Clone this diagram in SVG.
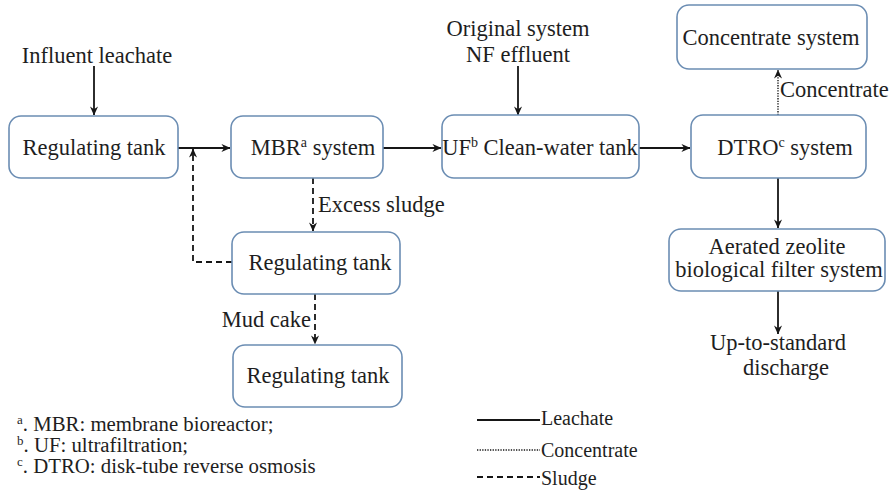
<svg xmlns="http://www.w3.org/2000/svg" width="896" height="492" viewBox="0 0 896 492" font-family="'Liberation Serif', 'DejaVu Serif', serif">
  <style>
    text { font-family: "Liberation Serif", "DejaVu Serif", serif; fill: #1e1e1e; }
    .lbl { font-size: 22.5px; }
    .box { fill: #ffffff; stroke: #6b8db3; stroke-width: 1.6; }
    .ctr { text-anchor: middle; }
    .note { font-size: 20.8px; }
    .legend { font-size: 20px; }
    .solid { stroke: #161616; stroke-width: 1.8; fill: none; }
    .dotted { stroke: #161616; stroke-width: 1.4; fill: none; stroke-dasharray: 1.3 1.3; }
    .dashed { stroke: #161616; stroke-width: 1.8; fill: none; stroke-dasharray: 6 4; }
  </style>
  <defs>
    <marker id="arrow" viewBox="0 0 10 10" refX="9.5" refY="5" markerWidth="9" markerHeight="9" markerUnits="userSpaceOnUse" orient="auto">
      <path d="M0,0.5 L10,5 L0,9.5 L3,5 Z" fill="#161616"/>
    </marker>
  </defs>

  <rect width="896" height="492" fill="#ffffff"/>

  <!-- connectors -->
  <g id="connectors">
    <line class="solid" x1="94" y1="66" x2="94" y2="115" marker-end="url(#arrow)"/>
    <line class="solid" x1="178" y1="148" x2="230" y2="148" marker-end="url(#arrow)"/>
    <line class="solid" x1="383" y1="148" x2="441" y2="148" marker-end="url(#arrow)"/>
    <line class="solid" x1="518" y1="66" x2="518" y2="115" marker-end="url(#arrow)"/>
    <line class="solid" x1="639" y1="148" x2="690" y2="148" marker-end="url(#arrow)"/>
    <line class="dotted" x1="778" y1="115" x2="778" y2="70" marker-end="url(#arrow)"/>
    <line class="solid" x1="778" y1="178" x2="778" y2="228" marker-end="url(#arrow)"/>
    <line class="solid" x1="778" y1="291" x2="778" y2="334" marker-end="url(#arrow)"/>
    <line class="dashed" x1="313" y1="178" x2="313" y2="231" marker-end="url(#arrow)"/>
    <polyline class="dashed" points="232,262 193,262 193,149" marker-end="url(#arrow)"/>
    <line class="dashed" x1="315" y1="294" x2="315" y2="344" marker-end="url(#arrow)"/>
  </g>

  <!-- connector labels and free texts -->
  <g id="labels" class="lbl">
    <text class="ctr" x="97" y="63">Influent leachate</text>
    <text class="ctr" x="518" y="36">Original system</text>
    <text class="ctr" x="518" y="62">NF effluent</text>
    <text x="780" y="97">Concentrate</text>
    <text x="318" y="212">Excess sludge</text>
    <text x="311" y="327" text-anchor="end">Mud cake</text>
    <text class="ctr" x="778" y="350">Up-to-standard</text>
    <text class="ctr" x="786" y="375">discharge</text>
  </g>

  <!-- nodes -->
  <g id="regulating-tank-1">
    <rect class="box" x="9" y="116" width="169" height="62" rx="12"/>
    <text class="lbl ctr" x="94" y="155">Regulating tank</text>
  </g>
  <g id="mbr-system">
    <rect class="box" x="231" y="116" width="152" height="62" rx="12"/>
    <text class="lbl ctr" x="313" y="155">MBR<tspan font-size="14" dy="-8">a</tspan><tspan dy="8"> system</tspan></text>
  </g>
  <g id="uf-clean-water-tank">
    <rect class="box" x="442" y="115" width="197" height="63" rx="12"/>
    <text class="lbl ctr" x="540" y="155">UF<tspan font-size="14" dy="-8">b</tspan><tspan dy="8"> Clean-water tank</tspan></text>
  </g>
  <g id="dtro-system">
    <rect class="box" x="691" y="115" width="175" height="63" rx="12"/>
    <text class="lbl ctr" x="785" y="155">DTRO<tspan font-size="14" dy="-8">c</tspan><tspan dy="8"> system</tspan></text>
  </g>
  <g id="concentrate-system">
    <rect class="box" x="677" y="5" width="190" height="64" rx="12"/>
    <text class="lbl ctr" x="771" y="45">Concentrate system</text>
  </g>
  <g id="regulating-tank-2">
    <rect class="box" x="232" y="232" width="168" height="62" rx="12"/>
    <text class="lbl ctr" x="320" y="270">Regulating tank</text>
  </g>
  <g id="regulating-tank-3">
    <rect class="box" x="233" y="345" width="169" height="62" rx="12"/>
    <text class="lbl ctr" x="318" y="383">Regulating tank</text>
  </g>
  <g id="aerated-zeolite-filter">
    <rect class="box" x="669" y="229" width="216" height="62" rx="12"/>
    <text class="lbl ctr" x="777" y="254">Aerated zeolite</text>
    <text class="lbl ctr" x="779" y="277">biological filter system</text>
  </g>

  <!-- footnotes -->
  <g id="footnotes" class="note">
    <text x="17" y="431"><tspan font-size="13" dy="-7">a</tspan><tspan dy="7">. MBR: membrane bioreactor;</tspan></text>
    <text x="17" y="452"><tspan font-size="13" dy="-7">b</tspan><tspan dy="7">. UF: ultrafiltration;</tspan></text>
    <text x="17" y="473"><tspan font-size="13" dy="-7">c</tspan><tspan dy="7">. DTRO: disk-tube reverse osmosis</tspan></text>
  </g>

  <!-- legend -->
  <g id="legend" class="legend">
    <line class="solid" x1="477" y1="420" x2="540" y2="420"/>
    <text x="541" y="425">Leachate</text>
    <line class="dotted" x1="477" y1="450" x2="540" y2="450"/>
    <text x="541" y="457">Concentrate</text>
    <line class="dashed" x1="477" y1="477" x2="540" y2="477" stroke-dasharray="6 4.5"/>
    <text x="541" y="485">Sludge</text>
  </g>
</svg>
